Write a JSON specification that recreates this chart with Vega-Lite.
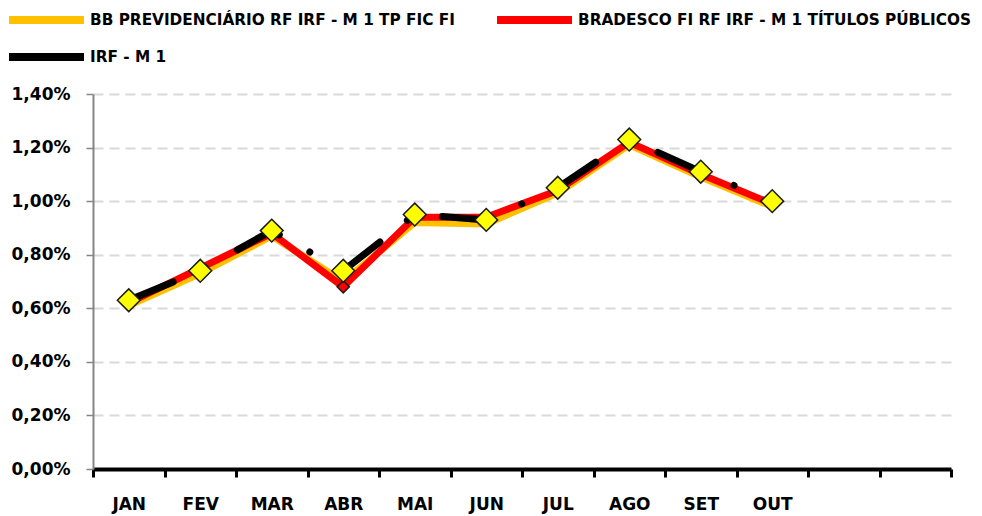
{
  "$schema": "https://vega.github.io/schema/vega-lite/v6.json",
  "width": 858,
  "height": 375,
  "padding": {"left": 93, "top": 94, "right": 31, "bottom": 47},
  "autosize": {"type": "none"},
  "background": "white",
  "config": {
    "font": "DejaVu Sans",
    "view": {"stroke": null},
    "legend": {
      "labelFont": "DejaVu Sans",
      "labelFontWeight": "bold",
      "labelFontSize": 15.3,
      "labelColor": "#000000",
      "labelLimit": 600
    }
  },
  "data": {
    "values": [
      {"month": "JAN", "series": "BB PREVIDENCIÁRIO RF IRF - M 1 TP FIC FI", "value": 0.61},
      {"month": "FEV", "series": "BB PREVIDENCIÁRIO RF IRF - M 1 TP FIC FI", "value": 0.73},
      {"month": "MAR", "series": "BB PREVIDENCIÁRIO RF IRF - M 1 TP FIC FI", "value": 0.87},
      {"month": "ABR", "series": "BB PREVIDENCIÁRIO RF IRF - M 1 TP FIC FI", "value": 0.70},
      {"month": "MAI", "series": "BB PREVIDENCIÁRIO RF IRF - M 1 TP FIC FI", "value": 0.92},
      {"month": "JUN", "series": "BB PREVIDENCIÁRIO RF IRF - M 1 TP FIC FI", "value": 0.915},
      {"month": "JUL", "series": "BB PREVIDENCIÁRIO RF IRF - M 1 TP FIC FI", "value": 1.03},
      {"month": "AGO", "series": "BB PREVIDENCIÁRIO RF IRF - M 1 TP FIC FI", "value": 1.21},
      {"month": "SET", "series": "BB PREVIDENCIÁRIO RF IRF - M 1 TP FIC FI", "value": 1.09},
      {"month": "OUT", "series": "BB PREVIDENCIÁRIO RF IRF - M 1 TP FIC FI", "value": 0.98},
      {"month": "JAN", "series": "BRADESCO FI RF IRF - M 1 TÍTULOS PÚBLICOS", "value": 0.62},
      {"month": "FEV", "series": "BRADESCO FI RF IRF - M 1 TÍTULOS PÚBLICOS", "value": 0.75},
      {"month": "MAR", "series": "BRADESCO FI RF IRF - M 1 TÍTULOS PÚBLICOS", "value": 0.88},
      {"month": "ABR", "series": "BRADESCO FI RF IRF - M 1 TÍTULOS PÚBLICOS", "value": 0.68},
      {"month": "MAI", "series": "BRADESCO FI RF IRF - M 1 TÍTULOS PÚBLICOS", "value": 0.94},
      {"month": "JUN", "series": "BRADESCO FI RF IRF - M 1 TÍTULOS PÚBLICOS", "value": 0.94},
      {"month": "JUL", "series": "BRADESCO FI RF IRF - M 1 TÍTULOS PÚBLICOS", "value": 1.04},
      {"month": "AGO", "series": "BRADESCO FI RF IRF - M 1 TÍTULOS PÚBLICOS", "value": 1.22},
      {"month": "SET", "series": "BRADESCO FI RF IRF - M 1 TÍTULOS PÚBLICOS", "value": 1.10},
      {"month": "OUT", "series": "BRADESCO FI RF IRF - M 1 TÍTULOS PÚBLICOS", "value": 0.99},
      {"month": "JAN", "series": "IRF - M 1", "value": 0.63},
      {"month": "FEV", "series": "IRF - M 1", "value": 0.74},
      {"month": "MAR", "series": "IRF - M 1", "value": 0.89},
      {"month": "ABR", "series": "IRF - M 1", "value": 0.74},
      {"month": "MAI", "series": "IRF - M 1", "value": 0.95},
      {"month": "JUN", "series": "IRF - M 1", "value": 0.93},
      {"month": "JUL", "series": "IRF - M 1", "value": 1.05},
      {"month": "AGO", "series": "IRF - M 1", "value": 1.23},
      {"month": "SET", "series": "IRF - M 1", "value": 1.11},
      {"month": "OUT", "series": "IRF - M 1", "value": 1.00}
    ]
  },
  "encoding": {
    "x": {
      "field": "month",
      "type": "ordinal",
      "bandPosition": 0.5,
      "scale": {
        "type": "band",
        "domain": ["JAN", "FEV", "MAR", "ABR", "MAI", "JUN", "JUL", "AGO", "SET", "OUT", "NOV", "DEZ"],
        "paddingInner": 0,
        "paddingOuter": 0
      },
      "axis": {
        "title": null,
        "labelAngle": 0,
        "labelExpr": "indexof(['NOV','DEZ'], datum.value) >= 0 ? '' : datum.value",
        "labelFont": "DejaVu Sans",
        "labelFontWeight": "bold",
        "labelFontSize": 17,
        "labelColor": "#000000",
        "labelPadding": 19,
        "domainColor": "#000000",
        "domainWidth": 4,
        "tickColor": "#000000",
        "tickWidth": 3,
        "tickSize": 8,
        "tickBand": "extent",
        "grid": false
      }
    },
    "y": {
      "field": "value",
      "type": "quantitative",
      "scale": {"domain": [0, 1.4], "nice": false},
      "axis": {
        "title": null,
        "values": [0, 0.2, 0.4, 0.6, 0.8, 1.0, 1.2, 1.4],
        "labelExpr": "replace(format(datum.value, '.2f'), '.', ',') + '%'",
        "labelFont": "DejaVu Sans",
        "labelFontWeight": "bold",
        "labelFontSize": 17,
        "labelColor": "#000000",
        "labelPadding": 16,
        "domainColor": "#868686",
        "domainWidth": 2,
        "tickColor": "#868686",
        "tickWidth": 1.5,
        "tickSize": 7,
        "grid": true,
        "gridColor": "#D9D9D9",
        "gridWidth": 2,
        "gridDash": [10, 6]
      }
    }
  },
  "layer": [
    {
      "transform": [{"filter": "datum.series === 'BB PREVIDENCIÁRIO RF IRF - M 1 TP FIC FI'"}],
      "mark": {"type": "line", "strokeWidth": 7, "strokeCap": "round", "strokeJoin": "round"},
      "encoding": {
        "color": {
          "field": "series",
          "type": "nominal",
          "scale": {
            "domain": ["BB PREVIDENCIÁRIO RF IRF - M 1 TP FIC FI", "BRADESCO FI RF IRF - M 1 TÍTULOS PÚBLICOS", "IRF - M 1"],
            "range": ["#FFC000", "#FF0000", "#000000"]
          },
          "legend": {
            "title": null,
            "orient": "none",
            "legendX": -88,
            "legendY": -84,
            "columns": 2,
            "direction": "horizontal",
            "columnPadding": 38,
            "rowPadding": 17,
            "clipHeight": 20,
            "symbolType": "stroke",
            "symbolSize": 5625,
            "symbolStrokeWidth": 8,
            "labelOffset": 2
          }
        }
      }
    },
    {
      "transform": [{"filter": "datum.series === 'BRADESCO FI RF IRF - M 1 TÍTULOS PÚBLICOS'"}],
      "mark": {"type": "line", "strokeWidth": 7, "strokeCap": "round", "strokeJoin": "round"},
      "encoding": {
        "color": {"field": "series", "type": "nominal"}
      }
    },
    {
      "transform": [{"filter": "datum.series === 'IRF - M 1'"}],
      "mark": {"type": "line", "strokeWidth": 7, "strokeCap": "round", "strokeJoin": "round", "strokeDash": [48, 35, 0.01, 37]},
      "encoding": {
        "color": {"field": "series", "type": "nominal"}
      }
    },
    {
      "transform": [{"filter": "datum.series === 'BRADESCO FI RF IRF - M 1 TÍTULOS PÚBLICOS'"}],
      "mark": {"type": "point", "shape": "diamond", "size": 150, "filled": true, "fill": "#FF0000", "stroke": "#1a1a1a", "strokeWidth": 1.5, "opacity": 1}
    },
    {
      "transform": [{"filter": "datum.series === 'IRF - M 1'"}],
      "mark": {"type": "point", "shape": "diamond", "size": 520, "filled": true, "fill": "#FFFF00", "stroke": "#1a1a1a", "strokeWidth": 1.5, "opacity": 1}
    }
  ]
}
